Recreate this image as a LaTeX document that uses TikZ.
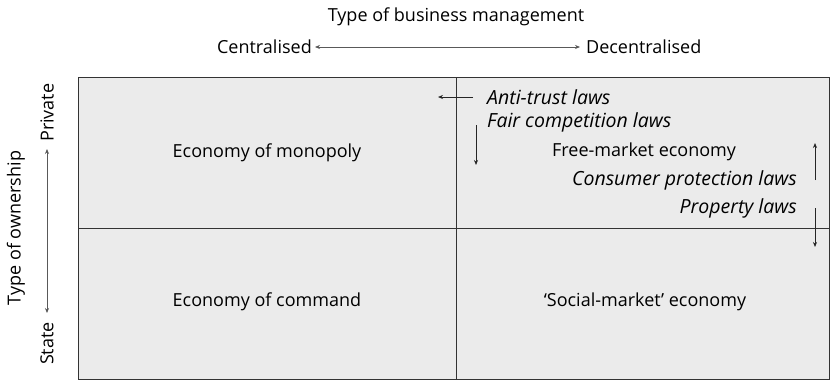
\documentclass[tikz,border=0pt]{standalone}
\usepackage{fontspec}
\setmainfont{Open Sans}
\usetikzlibrary{arrows.meta}
\begin{document}
\begin{tikzpicture}[x=1pt,y=-1pt,
  lbl/.style={inner sep=0pt, font=\fontsize{18}{21}\selectfont},
  law/.style={inner sep=0pt, font=\fontsize{19.5}{22}\selectfont\itshape},
  quadline/.style={draw=black!80, line width=0.9pt},
  axis/.style={draw=black!65, line width=0.7pt, {Stealth[length=5pt,width=4pt]}-{Stealth[length=5pt,width=4pt]}},
  lawarrow/.style={draw=black!85, line width=0.7pt, -{Stealth[length=5pt,width=4pt]}}
]
\useasboundingbox (0,0) rectangle (831,380);
% grid
\draw[quadline, fill=black!8] (78,77) rectangle (829,379);
\coordinate (mt) at (456,77);
\coordinate (mb) at (456,379);
\coordinate (ml) at (78,228);
\coordinate (mr) at (829,228);
\draw[quadline] (mt) -- (mb);
\draw[quadline] (ml) -- (mr);
% top axis
\node[lbl] (title) at (456,17) {Type of business management};
\node[lbl, anchor=east] (cen) at (312,47) {Centralised};
\node[lbl, anchor=west] (dec) at (586,47) {Decentralised};
\draw[axis, shorten <=3pt, shorten >=6pt] (cen.east) -- (dec.west);
% left axis
\node[lbl, rotate=90] (own) at (16,228) {Type of ownership};
\node[lbl, rotate=90, anchor=west] (priv) at (47,142) {Private};
\node[lbl, rotate=90, anchor=east] (state) at (47,322) {State};
\draw[axis, shorten <=7pt, shorten >=9pt] (priv.west) -- (state.east);
% quadrants
\node[lbl] (mono) at (267,153) {Economy of monopoly};
\node[lbl] (cmd) at (267,302) {Economy of command};
\node[lbl] (social) at (645,302) {`Social-market' economy};
\node[lbl, anchor=west] (free) at (552,152) {Free-market economy};
% laws
\node[law, anchor=west] (anti) at (487,97) {Anti-trust laws};
\node[law, anchor=west] (fair) at (487,122) {Fair competition laws};
\node[law, anchor=east] (cons) at (797,180) {Consumer protection laws};
\node[law, anchor=east] (prop) at (797,208) {Property laws};
% law arrows
\coordinate (a1s) at (473,97);
\coordinate (a1e) at (438,97);
\coordinate (a2s) at (476,125);
\coordinate (a2e) at (476,165);
\coordinate (a3s) at (815,180);
\coordinate (a3e) at (815,143);
\coordinate (a4s) at (815,208);
\coordinate (a4e) at (815,247);
\draw[lawarrow] (a1s) -- (a1e);
\draw[lawarrow] (a2s) -- (a2e);
\draw[lawarrow] (a3s) -- (a3e);
\draw[lawarrow] (a4s) -- (a4e);
\end{tikzpicture}
\end{document}
